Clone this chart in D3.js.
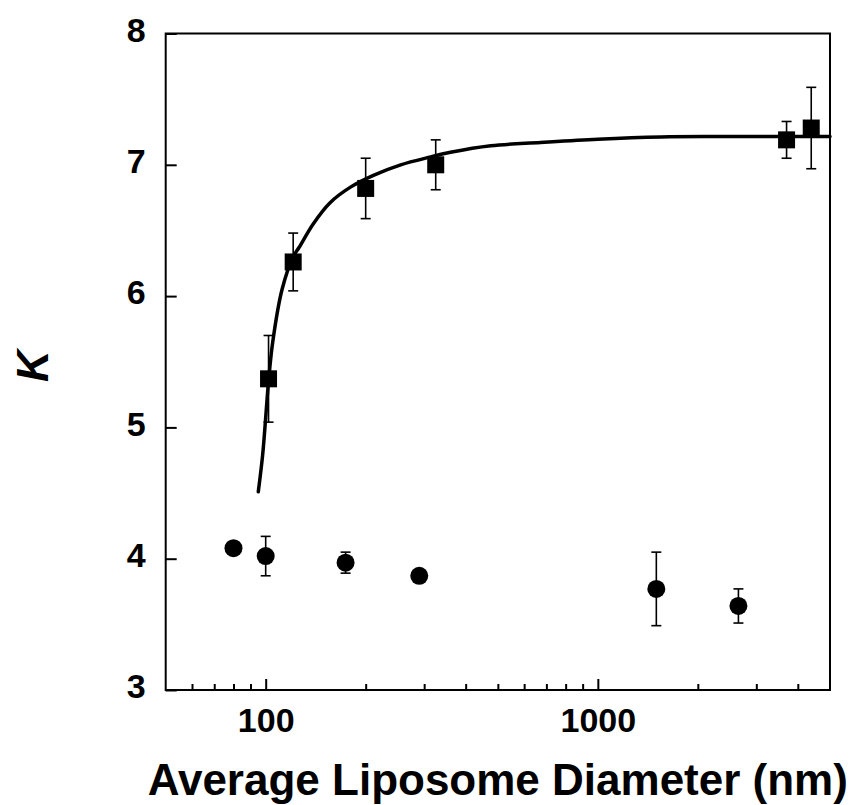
<!DOCTYPE html>
<html>
<head>
<meta charset="utf-8">
<script src="https://cdn.jsdelivr.net/npm/d3@7"></script>
<style>
  html, body { margin: 0; padding: 0; background: #fff; }
  svg { display: block; }
  text { font-family: "Liberation Sans", Arial, Helvetica, sans-serif; font-weight: bold; fill: #000; }
</style>
</head>
<body>
<svg id="chart" width="855" height="805"></svg>
<script>
// ---- data ----
const squareDiam = [102, 121, 200, 325, 3700, 4390];
const squareK    = [5.37, 6.26, 6.82, 7.00, 7.19, 7.28];
const squareErr  = [0.33, 0.22, 0.23, 0.19, 0.14, 0.31];

const circleDiam = [80, 100, 174, 290, 1500, 2650];
const circleK    = [4.08, 4.02, 3.97, 3.87, 3.77, 3.64];
const circleErr  = [0, 0.15, 0.08, 0, 0.28, 0.13];

const fitDiam = [95, 98, 102, 105, 112, 121, 126, 139, 156, 180, 211, 255, 314, 360, 476, 673, 1000, 1550, 2350, 5000];
const fitK    = [4.51, 4.80, 5.35, 5.65, 6.05, 6.30, 6.37, 6.55, 6.71, 6.83, 6.92, 7.00, 7.06, 7.095, 7.145, 7.17, 7.195, 7.212, 7.215, 7.215];

const yTicks = [3, 4, 5, 6, 7, 8];
const xMajorTicks = [100, 1000];
const xMinorTicks = [60, 70, 80, 90, 200, 300, 400, 500, 600, 700, 800, 900, 2000, 3000, 4000];

const xTitle = "Average Liposome Diameter (nm)";
const yTitle = "K";

// ---- layout ----
const L = 165.7, R = 830, T = 33.5, B = 690;
const svg = d3.select("#chart");

const x = d3.scaleLog().domain([50, 5000]).range([L, R]);
const y = d3.scaleLinear().domain([3, 8]).range([B, T]);

// frame
svg.append("rect")
  .attr("x", L).attr("y", T).attr("width", R - L).attr("height", B - T)
  .attr("fill", "none").attr("stroke", "#000").attr("stroke-width", 2);

// y axis ticks (inward) + labels
const yAxis = d3.axisLeft(y).tickValues(yTicks).tickSize(-11).tickPadding(20).tickFormat(d3.format("d"));
const gy = svg.append("g").attr("transform", `translate(${L},0)`).call(yAxis);
gy.select(".domain").remove();
gy.selectAll(".tick line").attr("stroke", "#000").attr("stroke-width", 2);
gy.selectAll(".tick text")
  .attr("font-size", 34).attr("font-family", '"Liberation Sans", Arial, sans-serif')
  .attr("font-weight", "bold").attr("fill", "#000")
  .attr("dy", "0.23em");

// x axis major ticks (inward) + labels
const xAxis = d3.axisBottom(x).tickValues(xMajorTicks).tickSize(-11).tickPadding(0).tickFormat(d3.format("d"));
const gx = svg.append("g").attr("transform", `translate(0,${B})`).call(xAxis);
gx.select(".domain").remove();
gx.selectAll(".tick line").attr("stroke", "#000").attr("stroke-width", 2);
gx.selectAll(".tick text")
  .attr("font-size", 34).attr("font-family", '"Liberation Sans", Arial, sans-serif')
  .attr("font-weight", "bold").attr("fill", "#000")
  .attr("y", 42).attr("dy", 0);

// x minor ticks
const xAxisMinor = d3.axisBottom(x).tickValues(xMinorTicks).tickSize(-6).tickFormat("");
const gxm = svg.append("g").attr("transform", `translate(0,${B})`).call(xAxisMinor);
gxm.select(".domain").remove();
gxm.selectAll(".tick line").attr("stroke", "#000").attr("stroke-width", 2);

// titles
svg.append("text")
  .attr("x", (L + R) / 2).attr("y", 795)
  .attr("text-anchor", "middle").attr("font-size", 44)
  .text(xTitle);

svg.append("text")
  .attr("transform", "translate(48,366) rotate(-90)")
  .attr("text-anchor", "middle").attr("font-size", 44)
  .attr("font-style", "italic")
  .text(yTitle);

// fit curve
const fitData = fitDiam.map((d, i) => ({ d, k: fitK[i] }));
svg.append("path")
  .datum(fitData)
  .attr("fill", "none").attr("stroke", "#000").attr("stroke-width", 3.5)
  .attr("stroke-linejoin", "round").attr("stroke-linecap", "round")
  .attr("d", d3.line().x(p => x(p.d)).y(p => y(p.k)).curve(d3.curveCatmullRom.alpha(0.5)));

// error bars
function errorBars(diam, vals, errs) {
  const data = diam.map((d, i) => ({ d, k: vals[i], e: errs[i] })).filter(p => p.e > 0);
  const g = svg.append("g").attr("stroke", "#000").attr("stroke-width", 1.6);
  g.selectAll("line.v").data(data).join("line")
    .attr("x1", p => x(p.d)).attr("x2", p => x(p.d))
    .attr("y1", p => y(p.k + p.e)).attr("y2", p => y(p.k - p.e));
  g.selectAll("line.t").data(data).join("line")
    .attr("x1", p => x(p.d) - 5).attr("x2", p => x(p.d) + 5)
    .attr("y1", p => y(p.k + p.e)).attr("y2", p => y(p.k + p.e));
  g.selectAll("line.b").data(data).join("line")
    .attr("x1", p => x(p.d) - 5).attr("x2", p => x(p.d) + 5)
    .attr("y1", p => y(p.k - p.e)).attr("y2", p => y(p.k - p.e));
}
errorBars(squareDiam, squareK, squareErr);
errorBars(circleDiam, circleK, circleErr);

// square markers
const sq = 17;
svg.append("g").selectAll("rect")
  .data(squareDiam.map((d, i) => ({ d, k: squareK[i] })))
  .join("rect")
  .attr("x", p => x(p.d) - sq / 2).attr("y", p => y(p.k) - sq / 2)
  .attr("width", sq).attr("height", sq).attr("fill", "#000");

// circle markers
svg.append("g").selectAll("circle")
  .data(circleDiam.map((d, i) => ({ d, k: circleK[i] })))
  .join("circle")
  .attr("cx", p => x(p.d)).attr("cy", p => y(p.k))
  .attr("r", 9).attr("fill", "#000");
</script>
</body>
</html>
